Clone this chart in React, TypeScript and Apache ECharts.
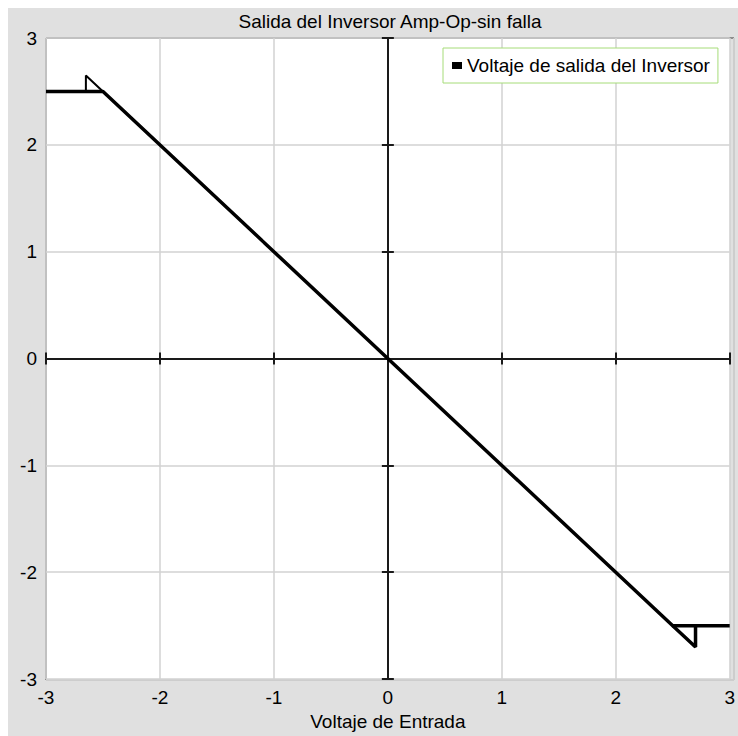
import React, { useEffect, useRef } from "react";
import * as echarts from "echarts";

// Transfer curve of the inverting op-amp: input voltage vs output voltage
const inputVoltage = [-3, -2.5, 2.5, 3];
const outputVoltage = [2.5, 2.5, -2.5, -2.5];
// small overshoot where the output enters saturation on each side
const negSpikeInput = [-2.5, -2.65, -2.65];
const negSpikeOutput = [2.5, 2.65, 2.5];
const posSpikeInput = [2.5, 2.7, 2.7];
const posSpikeOutput = [-2.5, -2.7, -2.5];

const AXIS_MIN = -3;
const AXIS_MAX = 3;
const AXIS_STEP = 1;

const TITLE = "Salida del Inversor Amp-Op-sin falla";
const SERIES_NAME = "Voltaje de salida del Inversor";
const X_NAME = "Voltaje de Entrada";

const W = 730;
const H = 728;
const G_LEFT = 38;
const G_TOP = 30;
const G_RIGHT = 4;
const G_BOTTOM = 56;

const FONT = "'Liberation Sans', Arial, sans-serif";

const zip = (xs: number[], ys: number[]) => xs.map((x, i) => [x, ys[i]]);

export default function App() {
  const ref = useRef<HTMLDivElement>(null);

  useEffect(() => {
    if (!ref.current) return;
    const chart = echarts.init(ref.current, undefined, { renderer: "svg" });

    const gridLine = { show: true, lineStyle: { color: "#d2d2d2", width: 1.5 } };
    const centerLine = { color: "#1a1a1a", width: 2 };

    const baseValue = {
      type: "value" as const,
      min: AXIS_MIN,
      max: AXIS_MAX,
      interval: AXIS_STEP,
    };

    // central crossing axis with ticks on both sides: two axes, one per side
    const centerAxis = (position: string) => ({
      ...baseValue,
      position,
      axisLine: { show: true, onZero: true, onZeroAxisIndex: 0, lineStyle: centerLine },
      axisTick: { show: true, inside: false, length: 6, lineStyle: centerLine },
      axisLabel: { show: false },
      splitLine: { show: false },
    });

    const plotRight = W - G_RIGHT;
    const plotBottom = H - G_BOTTOM;

    const curve = (data: number[][], width: number) => ({
      name: SERIES_NAME,
      type: "line",
      xAxisIndex: 0,
      yAxisIndex: 0,
      data,
      showSymbol: false,
      symbol: "none",
      color: "#000",
      lineStyle: { color: "#000", width },
      z: 5,
    });

    chart.setOption({
      animation: false,
      backgroundColor: "#e0e0e0",
      textStyle: { fontFamily: FONT },
      grid: {
        left: G_LEFT,
        top: G_TOP,
        right: G_RIGHT,
        bottom: G_BOTTOM,
        show: true,
        backgroundColor: "#ffffff",
        borderWidth: 0,
      },
      legend: {
        data: [SERIES_NAME],
        left: 435,
        top: 40,
        padding: [8, 8, 8, 9],
        backgroundColor: "#ffffff",
        borderColor: "#a6dc78",
        borderWidth: 1,
        borderRadius: 0,
        icon: "rect",
        itemWidth: 10,
        itemHeight: 7,
        itemGap: 7,
        textStyle: { fontSize: 19, color: "#000", fontFamily: FONT },
      },
      xAxis: [
        {
          ...baseValue,
          position: "bottom",
          name: X_NAME,
          nameLocation: "middle",
          nameGap: 29,
          nameTextStyle: { fontSize: 19, color: "#000", fontFamily: FONT },
          axisLine: { show: false, onZero: false },
          axisTick: { show: false },
          axisLabel: { fontSize: 19, color: "#000", margin: 9, fontFamily: FONT },
          splitLine: gridLine,
        },
        centerAxis("bottom"),
        centerAxis("top"),
      ],
      yAxis: [
        {
          ...baseValue,
          position: "left",
          axisLine: { show: false, onZero: false },
          axisTick: { show: false },
          axisLabel: { fontSize: 19, color: "#000", margin: 9, fontFamily: FONT },
          splitLine: gridLine,
        },
        centerAxis("left"),
        centerAxis("right"),
      ],
      graphic: [
        {
          type: "text",
          x: G_LEFT + (plotRight - G_LEFT) / 2,
          y: 13,
          style: {
            text: TITLE,
            fill: "#000",
            font: `19px ${FONT}`,
            textAlign: "center",
            textVerticalAlign: "middle",
          },
        },
        // plot frame: darker edge top/left, lighter edge bottom/right
        {
          type: "line",
          shape: { x1: G_LEFT, y1: G_TOP, x2: plotRight, y2: G_TOP },
          style: { stroke: "#8e8e8e", lineWidth: 2 },
        },
        {
          type: "line",
          shape: { x1: G_LEFT, y1: G_TOP, x2: G_LEFT, y2: plotBottom },
          style: { stroke: "#8e8e8e", lineWidth: 2 },
        },
        {
          type: "line",
          shape: { x1: G_LEFT, y1: plotBottom, x2: plotRight, y2: plotBottom },
          style: { stroke: "#cdcdcd", lineWidth: 2 },
        },
        {
          type: "line",
          shape: { x1: plotRight, y1: G_TOP, x2: plotRight, y2: plotBottom },
          style: { stroke: "#cdcdcd", lineWidth: 2 },
        },
      ],
      series: [
        curve(zip(inputVoltage, outputVoltage), 3.5),
        curve(zip(negSpikeInput, negSpikeOutput), 2),
        curve(zip(posSpikeInput, posSpikeOutput), 3.5),
      ],
    });

    return () => chart.dispose();
  }, []);

  return (
    <div
      ref={ref}
      style={{ position: "fixed", left: 8, top: 8, width: W, height: H }}
    />
  );
}
